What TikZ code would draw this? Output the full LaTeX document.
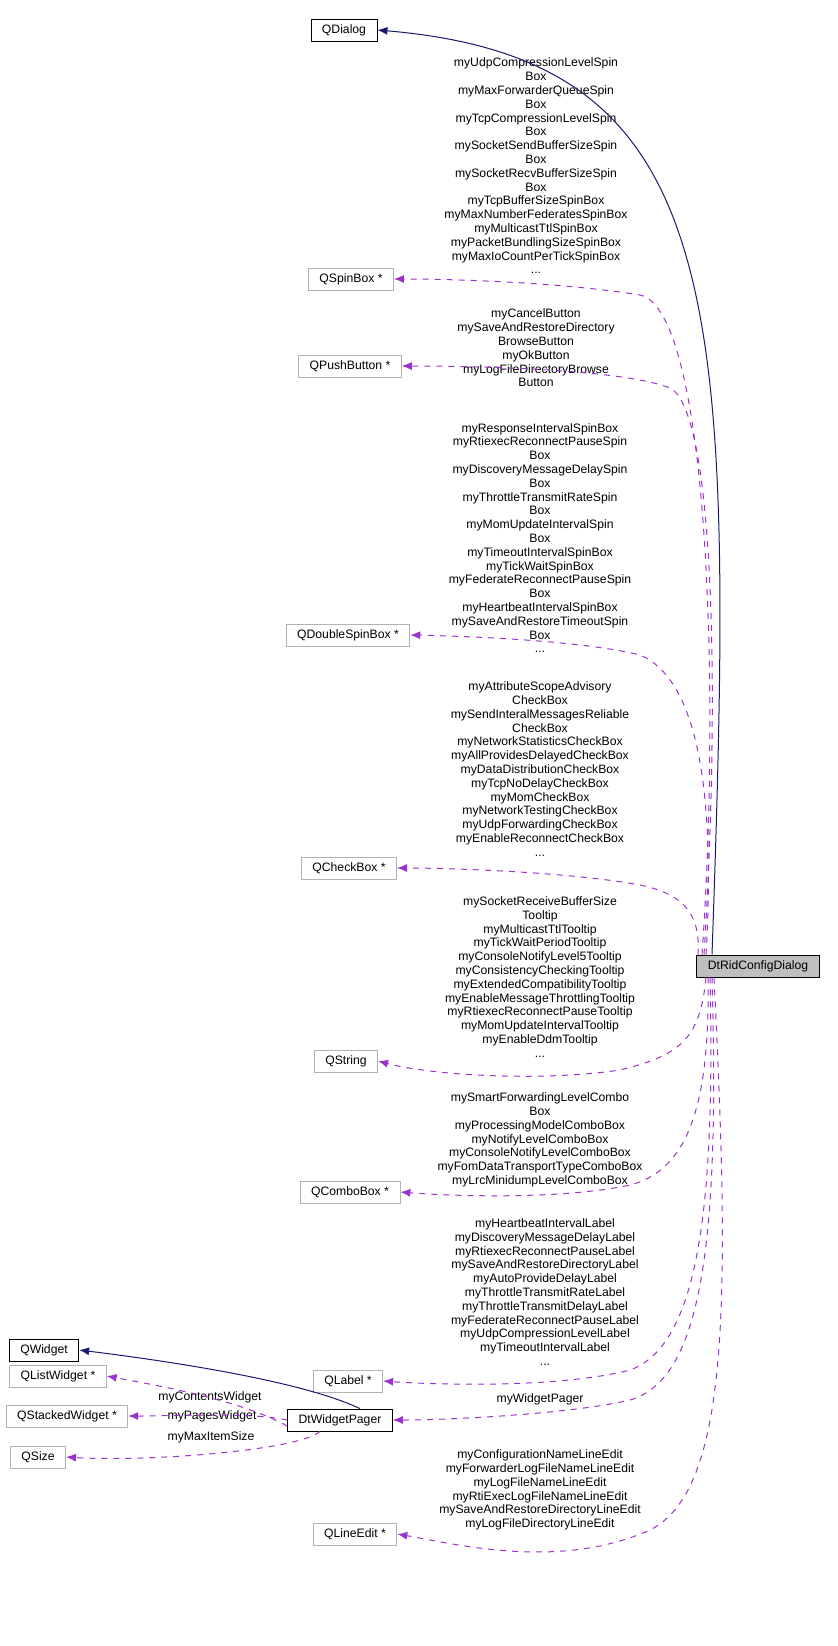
\documentclass[tikz,border=0pt]{standalone}
\usepackage{fontspec}
\setmainfont{Liberation Sans}
\usetikzlibrary{arrows.meta}
\begin{document}
\begin{tikzpicture}[x=0.5pt,y=-0.5pt,
 every node/.style={font=\fontsize{6.1}{6.9}\selectfont},
 cls/.style={draw=black!30,line width=0.4pt,minimum height=11pt,inner xsep=5.5pt,inner ysep=0pt,fill=white},
 main/.style={cls,draw=black},
 lbl/.style={align=center,inner sep=0pt},
 mem/.style={dashed,draw={rgb,255:red,154;green,50;blue,205},line width=0.5pt,-{Latex[length=5pt,width=4pt]}},
 inh/.style={draw={rgb,255:red,25;green,25;blue,112},line width=0.5pt,-{Latex[length=5pt,width=4pt]}}]
\useasboundingbox (0,0) rectangle (837,1646);
\node[main] (qdialog) at (344,30) {QDialog};
\node[cls] (spin) at (351,279) {QSpinBox *};
\node[cls] (push) at (350,366) {QPushButton *};
\node[cls] (dspin) at (348,635) {QDoubleSpinBox *};
\node[cls] (check) at (349,868) {QCheckBox *};
\node[cls] (str) at (346,1061) {QString};
\node[cls] (combo) at (350,1192) {QComboBox *};
\node[cls] (label) at (348,1381) {QLabel *};
\node[cls] (line) at (355,1534) {QLineEdit *};
\node[main,fill=black!25] (dlg) at (758,966) {DtRidConfigDialog};
\node[main] (qwidget) at (44,1350) {QWidget};
\node[cls] (list) at (58,1376) {QListWidget *};
\node[cls] (stack) at (67,1416) {QStackedWidget *};
\node[cls] (size) at (38,1457) {QSize};
\node[main] (pager) at (340,1420) {DtWidgetPager};

\node[lbl] at (536,166) {myUdpCompressionLevelSpin\\Box\\myMaxForwarderQueueSpin\\Box\\myTcpCompressionLevelSpin\\Box\\mySocketSendBufferSizeSpin\\Box\\mySocketRecvBufferSizeSpin\\Box\\myTcpBufferSizeSpinBox\\myMaxNumberFederatesSpinBox\\myMulticastTtlSpinBox\\myPacketBundlingSizeSpinBox\\myMaxIoCountPerTickSpinBox\\...};
\node[lbl] at (536,348) {myCancelButton\\mySaveAndRestoreDirectory\\BrowseButton\\myOkButton\\myLogFileDirectoryBrowse\\Button};
\node[lbl] at (540,538) {myResponseIntervalSpinBox\\myRtiexecReconnectPauseSpin\\Box\\myDiscoveryMessageDelaySpin\\Box\\myThrottleTransmitRateSpin\\Box\\myMomUpdateIntervalSpin\\Box\\myTimeoutIntervalSpinBox\\myTickWaitSpinBox\\myFederateReconnectPauseSpin\\Box\\myHeartbeatIntervalSpinBox\\mySaveAndRestoreTimeoutSpin\\Box\\...};
\node[lbl] at (540,769) {myAttributeScopeAdvisory\\CheckBox\\mySendInteralMessagesReliable\\CheckBox\\myNetworkStatisticsCheckBox\\myAllProvidesDelayedCheckBox\\myDataDistributionCheckBox\\myTcpNoDelayCheckBox\\myMomCheckBox\\myNetworkTestingCheckBox\\myUdpForwardingCheckBox\\myEnableReconnectCheckBox\\...};
\node[lbl] at (540,977) {mySocketReceiveBufferSize\\Tooltip\\myMulticastTtlTooltip\\myTickWaitPeriodTooltip\\myConsoleNotifyLevel5Tooltip\\myConsistencyCheckingTooltip\\myExtendedCompatibilityTooltip\\myEnableMessageThrottlingTooltip\\myRtiexecReconnectPauseTooltip\\myMomUpdateIntervalTooltip\\myEnableDdmTooltip\\...};
\node[lbl] at (540,1140) {mySmartForwardingLevelCombo\\Box\\myProcessingModelComboBox\\myNotifyLevelComboBox\\myConsoleNotifyLevelComboBox\\myFomDataTransportTypeComboBox\\myLrcMinidumpLevelComboBox};
\node[lbl] at (545,1292) {myHeartbeatIntervalLabel\\myDiscoveryMessageDelayLabel\\myRtiexecReconnectPauseLabel\\mySaveAndRestoreDirectoryLabel\\myAutoProvideDelayLabel\\myThrottleTransmitRateLabel\\myThrottleTransmitDelayLabel\\myFederateReconnectPauseLabel\\myUdpCompressionLevelLabel\\myTimeoutIntervalLabel\\...};
\node[lbl] at (540,1399) {myWidgetPager};
\node[lbl] at (540,1490) {myConfigurationNameLineEdit\\myForwarderLogFileNameLineEdit\\myLogFileNameLineEdit\\myRtiExecLogFileNameLineEdit\\mySaveAndRestoreDirectoryLineEdit\\myLogFileDirectoryLineEdit};
\node[lbl] at (210,1397) {myContentsWidget};
\node[lbl] at (212,1416) {myPagesWidget};
\node[lbl] at (211,1437) {myMaxItemSize};

\draw[inh] ([xshift=-23pt]dlg.north) .. controls (735,300) and (730,60) .. (qdialog.east);
\draw[mem] ([xshift=-28pt]dlg.north) .. controls (720,700) and (710,310) .. (640,295) .. controls (560,282) and (450,279) .. (spin.east);
\draw[mem] ([xshift=-27pt]dlg.north) .. controls (720,700) and (715,410) .. (670,388) .. controls (620,368) and (460,366) .. (push.east);
\draw[mem] ([xshift=-26pt]dlg.north) .. controls (715,800) and (700,680) .. (640,655) .. controls (580,640) and (460,636) .. (dspin.east);
\draw[mem] ([xshift=-30pt]dlg.north) .. controls (700,920) and (690,895) .. (640,885) .. controls (570,872) and (450,868) .. (check.east);
\draw[mem] ([xshift=-26pt]dlg.south) .. controls (700,1040) and (680,1055) .. (620,1070) .. controls (540,1082) and (430,1075) .. (str.east);
\draw[mem] ([xshift=-25pt]dlg.south) .. controls (710,1100) and (690,1170) .. (630,1185) .. controls (560,1200) and (450,1196) .. (combo.east);
\draw[mem] ([xshift=-24pt]dlg.south) .. controls (715,1200) and (700,1345) .. (630,1370) .. controls (560,1388) and (440,1385) .. (label.east);
\draw[mem] ([xshift=-23pt]dlg.south) .. controls (720,1250) and (700,1380) .. (630,1400) .. controls (570,1414) and (450,1420) .. (pager.east);
\draw[mem] ([xshift=-22pt]dlg.south) .. controls (730,1300) and (730,1490) .. (650,1530) .. controls (560,1570) and (460,1545) .. (line.east);
\draw[inh] ([xshift=10pt]pager.north) .. controls (300,1380) and (160,1360) .. (qwidget.east);
\draw[mem] ([yshift=-3pt]pager.west) .. controls (240,1400) and (160,1386) .. (list.east);
\draw[mem] (pager.west) .. controls (250,1412) and (180,1416) .. (stack.east);
\draw[mem] ([xshift=-10pt]pager.south) .. controls (300,1450) and (150,1462) .. (size.east);
\end{tikzpicture}
\end{document}
